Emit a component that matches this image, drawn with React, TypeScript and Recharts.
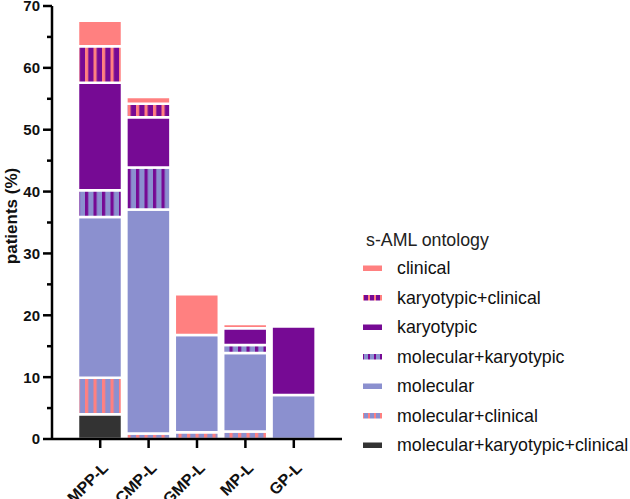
import React from 'react';
import { BarChart, Bar, XAxis, YAxis } from 'recharts';

// lineages on the x axis
const categories = ['MPP-L', 'CMP-L', 'GMP-L', 'MP-L', 'GP-L'];

// s-AML ontology, % of patients per segment (bottom to top of the stack)
const molKaryClin = [4.0, 0, 0, 0, 0];
const molClin = [5.9, 0.9, 1.1, 1.2, 0];
const molecular = [26.0, 36.2, 15.7, 12.7, 7.1];
const molKary = [4.3, 6.8, 0, 1.3, 0];
const karyotypic = [17.4, 8.1, 0, 2.7, 11.1];
const karyClin = [5.9, 2.2, 0, 0, 0];
const clinical = [4.1, 1.1, 6.6, 0.7, 0];

const yTicks = [0, 5, 10, 15, 20, 25, 30, 35, 40, 45, 50, 55, 60, 65, 70];

const PINK = '#FF8080';
const PURPLE = '#760A94';
const BLUE = '#8B90CF';
const DARK = '#333333';
const FONT = '"Liberation Sans", Arial, sans-serif';
const AXIS_X = 52;

const series = [
  { key: 'molKaryClin', name: 'molecular+karyotypic+clinical', base: DARK, stripe: null },
  { key: 'molClin', name: 'molecular+clinical', base: BLUE, stripe: PINK },
  { key: 'molecular', name: 'molecular', base: BLUE, stripe: null },
  { key: 'molKary', name: 'molecular+karyotypic', base: BLUE, stripe: PURPLE },
  { key: 'karyotypic', name: 'karyotypic', base: PURPLE, stripe: null },
  { key: 'karyClin', name: 'karyotypic+clinical', base: PURPLE, stripe: PINK },
  { key: 'clinical', name: 'clinical', base: PINK, stripe: null },
];

const data = categories.map((c, i) => ({
  name: c,
  molKaryClin: molKaryClin[i],
  molClin: molClin[i],
  molecular: molecular[i],
  molKary: molKary[i],
  karyotypic: karyotypic[i],
  karyClin: karyClin[i],
  clinical: clinical[i],
}));

function fillOf(s: (typeof series)[number], prefix: string) {
  return s.stripe ? `url(#${prefix}-${s.key})` : s.base;
}

function Patterns({ prefix, period, stripe }: { prefix: string; period: number; stripe: number }) {
  return (
    <defs>
      {series
        .filter((s) => s.stripe)
        .map((s) => (
          <pattern
            key={s.key}
            id={`${prefix}-${s.key}`}
            patternUnits="userSpaceOnUse"
            width={period}
            height={10}
          >
            <rect x={0} y={0} width={period} height={10} fill={s.base} />
            <rect x={0} y={0} width={stripe} height={10} fill={s.stripe as string} />
          </pattern>
        ))}
    </defs>
  );
}

function YTick(props: any) {
  const { y, payload } = props;
  const major = payload.value % 10 === 0;
  return (
    <g>
      <line
        x1={AXIS_X - (major ? 9 : 5)}
        x2={AXIS_X}
        y1={y}
        y2={y}
        stroke="#000"
        strokeWidth={2.5}
      />
      {major && (
        <text
          x={40}
          y={y}
          dy="0.36em"
          textAnchor="end"
          fontFamily={FONT}
          fontWeight="bold"
          fontSize={15}
          fill="#111"
        >
          {payload.value}
        </text>
      )}
    </g>
  );
}

function XTick(props: any) {
  const { x, y, payload } = props;
  const tx = x + 9;
  const ty = y + 19;
  return (
    <text
      x={tx}
      y={ty}
      textAnchor="end"
      transform={`rotate(-45, ${tx}, ${ty})`}
      fontFamily={FONT}
      fontWeight="bold"
      fontSize={16}
      fill="#111"
    >
      {payload.value}
    </text>
  );
}

function OntologyLegend() {
  const items = [...series].reverse();
  return (
    <svg
      width={280}
      height={250}
      style={{ position: 'absolute', left: 350, top: 222 }}
    >
      <Patterns prefix="lg" period={6} stripe={2} />
      <text x={16} y={18} dy="0.36em" fontFamily={FONT} fontSize={17.8} fill="#222">
        s-AML ontology
      </text>
      {items.map((s, i) => {
        const cy = 46 + i * 29.5;
        return (
          <g key={s.key}>
            <rect x={13} y={cy - 2.5} width={19} height={5.5} fill={fillOf(s, 'lg')} />
            <text x={47} y={cy} dy="0.36em" fontFamily={FONT} fontSize={17.8} fill="#111">
              {s.name}
            </text>
          </g>
        );
      })}
    </svg>
  );
}

export default function App() {
  return (
    <div style={{ position: 'absolute', left: 0, top: 0, width: 630, height: 499 }}>
      <BarChart
        width={630}
        height={499}
        data={data}
        margin={{ top: 6, right: 288, bottom: 0, left: 0 }}
        barCategoryGap={2}
      >
        <Patterns prefix="bar" period={8.5} stripe={3.2} />
        <XAxis
          dataKey="name"
          height={60}
          interval={0}
          padding={{ left: 24, right: 24 }}
          axisLine={{ stroke: '#000', strokeWidth: 2.5 }}
          tickLine={{ stroke: '#000', strokeWidth: 2.5 }}
          tickSize={9}
          tick={<XTick />}
        />
        <YAxis
          width={52}
          domain={[0, 70]}
          ticks={yTicks}
          interval={0}
          axisLine={{ stroke: '#000', strokeWidth: 2.5 }}
          tickLine={false}
          tick={<YTick />}
          label={{
            content: () => (
              <text
                x={11}
                y={216}
                textAnchor="middle"
                dy="0.36em"
                transform="rotate(-90, 11, 216)"
                fontFamily={FONT}
                fontWeight="bold"
                fontSize={17}
                fill="#111"
              >
                patients (%)
              </text>
            ),
          }}
        />
        {series.map((s) => (
          <Bar
            key={s.key}
            dataKey={s.key}
            name={s.name}
            stackId="a"
            fill={fillOf(s, 'bar')}
            stroke="#fff"
            strokeWidth={2.5}
            isAnimationActive={false}
          />
        ))}
      </BarChart>
      <OntologyLegend />
    </div>
  );
}
